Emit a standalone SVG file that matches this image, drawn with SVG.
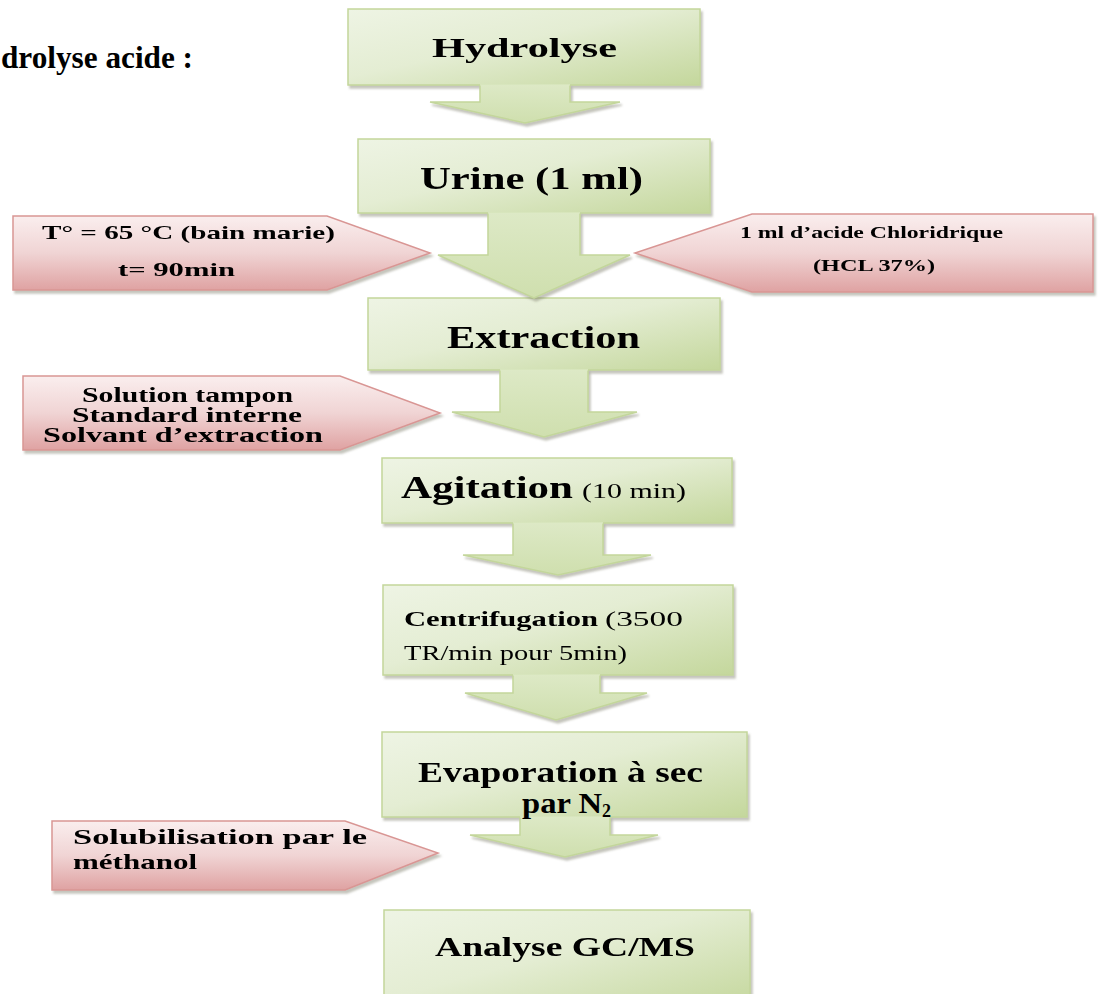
<svg xmlns="http://www.w3.org/2000/svg" width="1102" height="994" viewBox="0 0 1102 994">
<style>
text{font-family:"Liberation Serif","Times New Roman",serif;fill:#000}
.b{font-weight:bold}
.box{fill:url(#gg);stroke:#c3d69b;stroke-width:1.5}
.cf{fill:url(#gc);stroke:none}
.cs{fill:none;stroke:#c3d69b;stroke-width:1.5;stroke-linejoin:miter}
.pk{fill:url(#pg);stroke:#d99694;stroke-width:1.5}
.sh{filter:url(#ds)}
</style>
<defs>
<linearGradient id="gg" x1="0" y1="0" x2="1" y2="1">
<stop offset="0" stop-color="#eef4e4"/>
<stop offset="0.45" stop-color="#e4edd3"/>
<stop offset="1" stop-color="#c4d79c"/>
</linearGradient>
<linearGradient id="gc" x1="0" y1="0" x2="0" y2="1">
<stop offset="0" stop-color="#dde9c6"/>
<stop offset="1" stop-color="#cfdfae"/>
</linearGradient>
<linearGradient id="pg" x1="0" y1="0" x2="0" y2="1">
<stop offset="0" stop-color="#faeeee"/>
<stop offset="0.5" stop-color="#f0d4d4"/>
<stop offset="1" stop-color="#dfa2a2"/>
</linearGradient>
<filter id="ds" x="-5%" y="-10%" width="115%" height="130%">
<feDropShadow dx="2" dy="3" stdDeviation="1.2" flood-color="#7f7f6a" flood-opacity="0.45"/>
</filter>
</defs>
<rect width="1102" height="994" fill="#fff"/>

<g id="title">
<text x="1" y="68" class="b" font-size="31" textLength="192" lengthAdjust="spacingAndGlyphs">drolyse acide :</text>
</g>

<g id="n-hydrolyse" class="sh">
<rect class="box" x="348" y="9" width="352" height="76"/>
<text x="432" y="57" class="b" font-size="28" textLength="185" lengthAdjust="spacingAndGlyphs">Hydrolyse</text>
</g>

<g id="n-urine" class="sh">
<rect class="box" x="358" y="139" width="352" height="74"/>
<text x="420" y="189" class="b" font-size="31" textLength="223" lengthAdjust="spacingAndGlyphs">Urine (1 ml)</text>
</g>

<g id="n-extraction" class="sh">
<rect class="box" x="368" y="298" width="352" height="72"/>
<text x="447" y="348" class="b" font-size="31" textLength="193" lengthAdjust="spacingAndGlyphs">Extraction</text>
</g>

<g id="n-agitation" class="sh">
<rect class="box" x="382" y="458" width="350" height="65"/>
<text x="401" y="498" class="b" font-size="31" textLength="172" lengthAdjust="spacingAndGlyphs">Agitation</text>
<text x="582" y="498" font-size="20" textLength="104" lengthAdjust="spacingAndGlyphs">(10 min)</text>
</g>

<g id="n-centrifugation" class="sh">
<rect class="box" x="383" y="585" width="350" height="90"/>
<text x="404" y="626" class="b" font-size="22" textLength="194" lengthAdjust="spacingAndGlyphs">Centrifugation</text>
<text x="605" y="626" font-size="22" textLength="78" lengthAdjust="spacingAndGlyphs">(3500</text>
<text x="404" y="660" font-size="22" textLength="223" lengthAdjust="spacingAndGlyphs">TR/min pour 5min)</text>
</g>

<g id="n-evaporation" class="sh">
<rect class="box" x="382" y="732" width="365" height="85"/>
<text x="418" y="782" class="b" font-size="29" textLength="285" lengthAdjust="spacingAndGlyphs">Evaporation à sec</text>
</g>

<g id="n-analyse" class="sh">
<rect class="box" x="384" y="910" width="366" height="100"/>
<text x="435" y="956" class="b" font-size="27" textLength="260" lengthAdjust="spacingAndGlyphs">Analyse GC/MS</text>
</g>

<g id="connectors">
<g class="sh">
<path class="cf" d="M480,84.2 V102 H430 L525,123 L620,102 H570 V84.2 Z"/>
<path class="cs" d="M480,85.5 V102 H430 L525,123 L620,102 H570 V85.5"/>
</g>
<g class="sh">
<path class="cf" d="M488,212.2 V255 H438 L534,298 L630,255 H580 V212.2 Z"/>
<path class="cs" d="M488,213.5 V255 H438 L534,298 L630,255 H580 V213.5"/>
</g>
<g class="sh">
<path class="cf" d="M500,369.2 V412 H452 L544,437 L637,412 H588 V369.2 Z"/>
<path class="cs" d="M500,370.5 V412 H452 L544,437 L637,412 H588 V370.5"/>
</g>
<g class="sh">
<path class="cf" d="M513,522.2 V555 H463 L558,575 L651,555 H603 V522.2 Z"/>
<path class="cs" d="M513,523.5 V555 H463 L558,575 L651,555 H603 V523.5"/>
</g>
<g class="sh">
<path class="cf" d="M513,674.2 V693 H465 L556,720 L647,693 H600 V674.2 Z"/>
<path class="cs" d="M513,675.5 V693 H465 L556,720 L647,693 H600 V675.5"/>
</g>
<g class="sh">
<path class="cf" d="M520,816.2 V835 H470 L565,857 L658,835 H610 V816.2 Z"/>
<path class="cs" d="M520,817.5 V835 H470 L565,857 L658,835 H610 V817.5"/>
</g>
</g>

<g id="n-evaporation-line2">
<text x="522" y="813" class="b" font-size="29"><tspan textLength="80" lengthAdjust="spacingAndGlyphs">par N</tspan><tspan font-size="18" dy="4">2</tspan></text>
</g>

<g id="p-temperature" class="sh">
<polygon class="pk" points="13,216 327,216 430,253 327,290 13,290"/>
<text x="42" y="239" class="b" font-size="19" textLength="293" lengthAdjust="spacingAndGlyphs">T° = 65 °C (bain marie)</text>
<text x="118" y="276" class="b" font-size="19" textLength="117" lengthAdjust="spacingAndGlyphs">t= 90min</text>
</g>

<g id="p-hcl" class="sh">
<polygon class="pk" points="1093,214 752,214 635,253 752,292 1093,292"/>
<text x="740" y="238" class="b" font-size="16" textLength="263" lengthAdjust="spacingAndGlyphs">1 ml d’acide Chloridrique</text>
<text x="813" y="271" class="b" font-size="16" textLength="122" lengthAdjust="spacingAndGlyphs">(HCL 37%)</text>
</g>

<g id="p-extraction" class="sh">
<polygon class="pk" points="23,376 340,376 440,413 340,450 23,450"/>
<text x="82" y="402" class="b" font-size="20" textLength="211" lengthAdjust="spacingAndGlyphs">Solution tampon</text>
<text x="72" y="422" class="b" font-size="20" textLength="230" lengthAdjust="spacingAndGlyphs">Standard interne</text>
<text x="43" y="442" class="b" font-size="20" textLength="280" lengthAdjust="spacingAndGlyphs">Solvant d’extraction</text>
</g>

<g id="p-methanol" class="sh">
<polygon class="pk" points="52,821 345,821 438,853 345,890 52,890"/>
<text x="73" y="844" class="b" font-size="21" textLength="294" lengthAdjust="spacingAndGlyphs">Solubilisation par le</text>
<text x="73" y="869" class="b" font-size="21" textLength="124" lengthAdjust="spacingAndGlyphs">méthanol</text>
</g>
</svg>
